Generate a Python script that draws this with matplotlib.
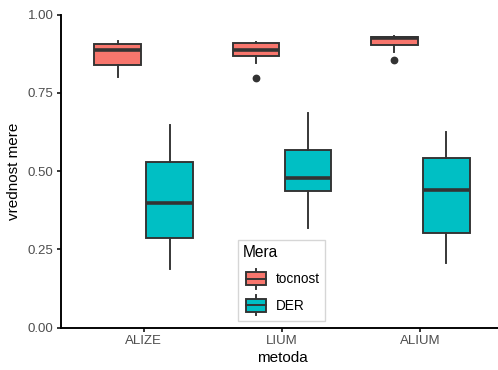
import matplotlib
matplotlib.use("Agg")
import matplotlib.pyplot as plt
from matplotlib.patches import Rectangle
from matplotlib.lines import Line2D
from matplotlib.legend_handler import HandlerBase

plt.rcParams['font.family'] = ['Liberation Sans', 'DejaVu Sans']

methods = ["ALIZE", "LIUM", "ALIUM"]
measures = ["tocnost", "DER"]
fill_colors = {"tocnost": "#F8766D", "DER": "#00BFC4"}

# five-number summaries per method (whisker low, Q1, median, Q3, whisker high)
tocnost_whislo = [0.799, 0.846, 0.879]
tocnost_q1 = [0.839, 0.868, 0.903]
tocnost_med = [0.888, 0.888, 0.925]
tocnost_q3 = [0.905, 0.908, 0.929]
tocnost_whishi = [0.916, 0.912, 0.931]
tocnost_outliers = [[], [0.796], [0.856]]

der_whislo = [0.186, 0.317, 0.206]
der_q1 = [0.285, 0.436, 0.301]
der_med = [0.397, 0.477, 0.440]
der_q3 = [0.528, 0.568, 0.541]
der_whishi = [0.646, 0.686, 0.624]
der_outliers = [[], [], []]

y_ticks = [0.00, 0.25, 0.50, 0.75, 1.00]

summaries = {
    "tocnost": (tocnost_whislo, tocnost_q1, tocnost_med, tocnost_q3, tocnost_whishi, tocnost_outliers),
    "DER": (der_whislo, der_q1, der_med, der_q3, der_whishi, der_outliers),
}

EDGE = "#333333"
LW = 1.37
DODGE = 0.75
BOX_W = DODGE / 2 * 0.9
SMALL = 9.5
TITLE = 11.0
LEG_TEXT = 9.8
LEG_TITLE = 11.2

W, H, DPI = 498, 370, 100
fig = plt.figure(figsize=(W / DPI, H / DPI), dpi=DPI)
ax = fig.add_axes([60.5 / W, 42.5 / H, 443 / W, 313 / H])

for k, m in enumerate(measures):
    lo, q1, med, q3, hi, out = summaries[m]
    stats = []
    for i in range(len(methods)):
        stats.append(dict(whislo=lo[i], q1=q1[i], med=med[i], q3=q3[i],
                          whishi=hi[i], fliers=out[i]))
    offset = (k - 0.5) * DODGE / 2
    positions = [i + 1 + offset for i in range(len(methods))]
    ax.bxp(stats, positions=positions, widths=BOX_W, patch_artist=True,
           showcaps=False, manage_ticks=False,
           boxprops=dict(facecolor=fill_colors[m], edgecolor=EDGE, linewidth=LW),
           medianprops=dict(color=EDGE, linewidth=2.6, solid_capstyle='butt'),
           whiskerprops=dict(color=EDGE, linewidth=LW),
           flierprops=dict(marker='o', markerfacecolor=EDGE, markeredgecolor=EDGE,
                           markersize=4.6, linestyle='none'))

ax.set_xlim(0.4, 3.6)
ax.set_ylim(0, 1)
ax.set_xticks([1, 2, 3])
ax.set_xticklabels(methods)
ax.set_yticks(y_ticks)
ax.set_yticklabels([f"{v:.2f}" for v in y_ticks])

for side in ("top", "right"):
    ax.spines[side].set_visible(False)
for side in ("left", "bottom"):
    ax.spines[side].set_color("black")
    ax.spines[side].set_linewidth(LW)
    ax.spines[side].set_capstyle('projecting')

ax.tick_params(axis='both', length=2.65, width=LW, color=EDGE,
               labelcolor="#4D4D4D", labelsize=SMALL, pad=2.4)

ax.set_xlabel("metoda", fontsize=TITLE, color="black", labelpad=3.0)
ax.set_ylabel("vrednost mere", fontsize=TITLE, color="black", labelpad=5.0)


class BoxKey(HandlerBase):
    """Legend key drawn as a miniature boxplot."""

    def create_artists(self, legend, orig_handle, xdescent, ydescent,
                       width, height, fontsize, trans):
        x0, y0 = -xdescent, -ydescent
        fc = orig_handle.get_facecolor()
        xm = x0 + width / 2
        ym = y0 + height / 2
        half_box = 0.32 * height
        half_whisk = 0.48 * height
        return [
            Line2D([xm, xm], [ym - half_whisk, ym - half_box], color=EDGE, lw=LW, transform=trans),
            Line2D([xm, xm], [ym + half_box, ym + half_whisk], color=EDGE, lw=LW, transform=trans),
            Rectangle((x0 + 0.1 * width, ym - half_box), 0.8 * width, 2 * half_box,
                      facecolor=fc, edgecolor=EDGE, lw=LW, transform=trans),
            Line2D([x0 + 0.1 * width, x0 + 0.9 * width], [ym, ym],
                   color=EDGE, lw=LW, transform=trans),
        ]


handles = [Rectangle((0, 0), 1, 1, facecolor=fill_colors[m]) for m in measures]
leg = fig.legend(handles, measures, title="Mera", loc="upper left",
                 bbox_to_anchor=(238.3 / W, 1 - 240 / H), borderaxespad=0,
                 handler_map={Rectangle: BoxKey()}, fontsize=LEG_TEXT,
                 title_fontsize=LEG_TITLE, alignment="left", frameon=True,
                 fancybox=False, borderpad=0.36, handlelength=1.84,
                 handleheight=1.99, handletextpad=0.55, labelspacing=0.42)
leg._legend_box.sep = 0.42 * LEG_TEXT + 1.8
leg.get_frame().set_edgecolor("#CCCCCC")
leg.get_frame().set_linewidth(1.0)

fig.savefig("out.png", dpi=DPI)
